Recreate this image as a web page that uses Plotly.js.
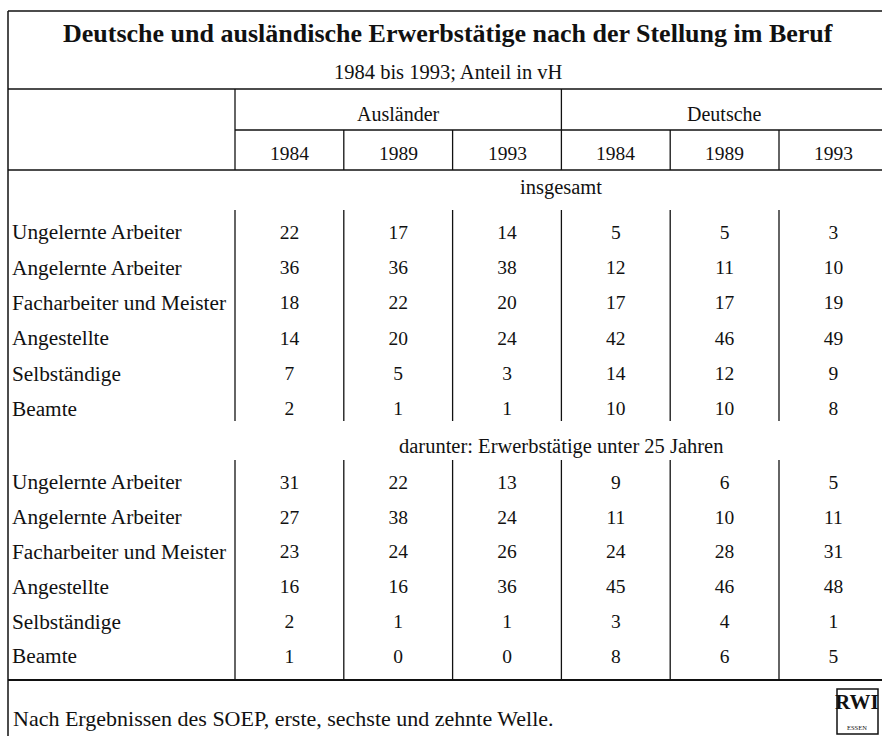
<!DOCTYPE html>
<html>
<head>
<meta charset="utf-8">
<script src="https://cdn.plot.ly/plotly-3.0.1.min.js"></script>
<style>html,body{margin:0;padding:0;background:#fff}#chart{width:882px;height:736px}</style>
</head>
<body>
<div id="chart"></div>
<script>
// ---- data ----
const title = "Deutsche und ausländische Erwerbstätige nach der Stellung im Beruf";
const subtitle = "1984 bis 1993; Anteil in vH";
const groups = ["Ausländer", "Deutsche"];
const years = ["1984", "1989", "1993"];
const categories = ["Ungelernte Arbeiter", "Angelernte Arbeiter", "Facharbeiter und Meister", "Angestellte", "Selbständige", "Beamte"];
const sections = ["insgesamt", "darunter: Erwerbstätige unter 25 Jahren"];
// columns: Ausländer 1984, 1989, 1993, Deutsche 1984, 1989, 1993
const totalUngelernte   = [22, 17, 14, 5, 5, 3];
const totalAngelernte   = [36, 36, 38, 12, 11, 10];
const totalFacharbeiter = [18, 22, 20, 17, 17, 19];
const totalAngestellte  = [14, 20, 24, 42, 46, 49];
const totalSelbstaendig = [7, 5, 3, 14, 12, 9];
const totalBeamte       = [2, 1, 1, 10, 10, 8];
const youngUngelernte   = [31, 22, 13, 9, 6, 5];
const youngAngelernte   = [27, 38, 24, 11, 10, 11];
const youngFacharbeiter = [23, 24, 26, 24, 28, 31];
const youngAngestellte  = [16, 16, 36, 45, 46, 48];
const youngSelbstaendig = [2, 1, 1, 3, 4, 1];
const youngBeamte       = [1, 0, 0, 8, 6, 5];
const footnote = "Nach Ergebnissen des SOEP, erste, sechste und zehnte Welle.";

// ---- layout geometry (pixel coordinate axes) ----
const W = 882, H = 736;
const left = 8, labelX = 12, colStart = 235;
const colW = 108.8;
const colCenter = i => colStart + (i + 0.5) * colW;
const colEdge = i => colStart + i * colW;
const yTop = 11, yTitleLine = 89, yGroupLine = 130, yHeadLine = 170, yBottom = 680;
const sectionY = [187, 446];
const rowStart = [234, 484];
const rowStep = [35.3, 34.8];
const vSeg = [[210, 421], [460, 680]];

const sectionData = [
  [totalUngelernte, totalAngelernte, totalFacharbeiter, totalAngestellte, totalSelbstaendig, totalBeamte],
  [youngUngelernte, youngAngelernte, youngFacharbeiter, youngAngestellte, youngSelbstaendig, youngBeamte]
];

const FONT = "Liberation Serif, Times New Roman, serif";
const BODY = 19.5, LABEL = 21.3;
const traces = [];
const nx = [], ny = [], nt = [];
const lx = [], ly = [], lt = [];
sectionData.forEach((rows, s) => {
  rows.forEach((vals, r) => {
    const y = rowStart[s] + r * rowStep[s];
    vals.forEach((v, c) => { nx.push(colCenter(c)); ny.push(y); nt.push(String(v)); });
    lx.push(labelX); ly.push(y); lt.push(categories[r]);
  });
});
traces.push({type: "scatter", mode: "text", x: nx, y: ny, text: nt, textposition: "middle center",
  textfont: {family: FONT, size: BODY, color: "#111"}, hoverinfo: "skip", showlegend: false, cliponaxis: false});
traces.push({type: "scatter", mode: "text", x: lx, y: ly, text: lt, textposition: "middle right",
  textfont: {family: FONT, size: LABEL, color: "#111"}, hoverinfo: "skip", showlegend: false, cliponaxis: false});

const ann = [];
const A = (x, y, text, size, xanchor, extra) => ann.push(Object.assign({x, y, xref: "x", yref: "y", text, showarrow: false,
  xanchor: xanchor || "center", yanchor: "middle", font: {family: FONT, size, color: "#111"}}, extra || {}));
A(448, 33, "<b>" + title + "</b>", 26);
A(448, 72, subtitle, 20.5);
groups.forEach((g, gi) => A(colStart + (gi * 3 + 1.5) * colW, 114, g, 20));
groups.forEach((g, gi) => years.forEach((yr, yi) => A(colCenter(gi * 3 + yi), 153, yr, BODY)));
sections.forEach((s, si) => A(colEdge(3), sectionY[si], s, 20.5));
A(labelX - 1, 718, footnote, 22, "left");
// RWI logo
A(857, 702, "<b>RWI</b>", 19, "center", {font: {family: "Liberation Sans Narrow, Liberation Serif, serif", size: 21, color: "#111"}});
A(857, 727, "ESSEN", 6.5);

const shapes = [];
const L = (x0, y0, x1, y1, w) => shapes.push({type: "line", xref: "x", yref: "y", x0, y0, x1, y1, line: {color: "#111", width: w || 1.3}});
L(left, yTop, W, yTop, 1.5);
L(left, yTop, left, H, 1.5);
L(left, yTitleLine, W, yTitleLine, 1.5);
L(colStart, yGroupLine, W, yGroupLine, 1.3);
L(left, yHeadLine, W, yHeadLine, 1.5);
L(left, yBottom, W, yBottom, 1.8);
L(colStart, yTitleLine, colStart, yHeadLine);
L(colEdge(3), yTitleLine, colEdge(3), yHeadLine);
[1, 2, 4, 5].forEach(i => L(colEdge(i), yGroupLine, colEdge(i), yHeadLine));
vSeg.forEach(([a, b]) => { for (let i = 0; i < 6; i++) L(colEdge(i), a, colEdge(i), b, 1.3); });
shapes.push({type: "rect", xref: "x", yref: "y", x0: 837, y0: 689, x1: 878, y1: 734, line: {color: "#111", width: 1.5}});

Plotly.newPlot("chart", traces, {
  width: W, height: H, margin: {l: 0, r: 0, t: 0, b: 0},
  paper_bgcolor: "#fff", plot_bgcolor: "#fff",
  xaxis: {range: [0, W], visible: false, fixedrange: true},
  yaxis: {range: [H, 0], visible: false, fixedrange: true},
  shapes, annotations: ann, showlegend: false
}, {displayModeBar: false, staticPlot: true});
</script>
</body>
</html>
